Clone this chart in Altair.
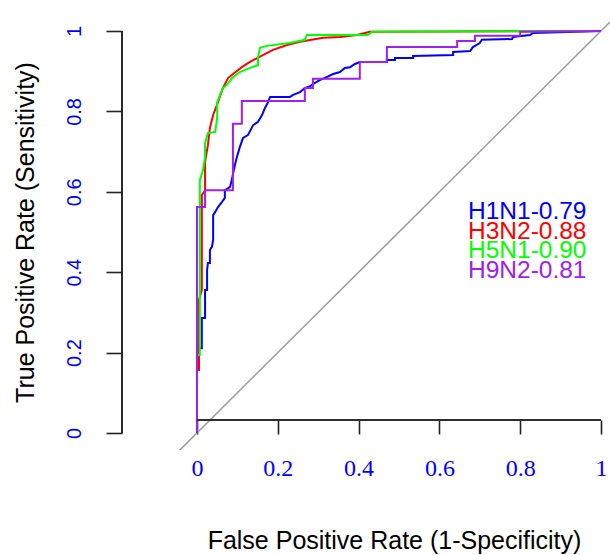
import altair as alt
import pandas as pd

# ---------------- data ----------------
series_names = ["H1N1", "H3N2", "H5N1", "H9N2"]
auc_labels = ["0.79", "0.88", "0.90", "0.81"]
series_colors = ["#0000FF", "#FF0000", "#00FF00", "#A020F0"]

h1n1_fpr = [0, 0, 0.005, 0.005, 0.012, 0.012, 0.020, 0.020, 0.025, 0.025, 0.027, 0.032, 0.032,
            0.037, 0.040, 0.040, 0.045, 0.052, 0.062, 0.069, 0.069, 0.082, 0.087, 0.094, 0.099,
            0.106, 0.114, 0.126, 0.139, 0.151, 0.161, 0.168, 0.176, 0.181, 0.230, 0.238, 0.255,
            0.267, 0.280, 0.292, 0.304, 0.322, 0.337, 0.354, 0.366, 0.379, 0.391, 0.403, 0.470,
            0.470, 0.490, 0.490, 0.535, 0.535, 0.634, 0.634, 0.676, 0.683, 0.700, 0.705, 0.780,
            0.782, 0.824, 0.832, 1.0]
h1n1_tpr = [0, 0.194, 0.194, 0.211, 0.211, 0.286, 0.286, 0.356, 0.356, 0.405, 0.423, 0.423, 0.455,
            0.463, 0.480, 0.542, 0.550, 0.562, 0.575, 0.585, 0.604, 0.612, 0.634, 0.667, 0.687,
            0.711, 0.734, 0.741, 0.766, 0.774, 0.791, 0.808, 0.823, 0.836, 0.836, 0.841, 0.848,
            0.858, 0.863, 0.871, 0.878, 0.886, 0.893, 0.898, 0.908, 0.910, 0.918, 0.923, 0.923,
            0.928, 0.928, 0.933, 0.933, 0.938, 0.940, 0.948, 0.950, 0.960, 0.970, 0.978, 0.980,
            0.985, 0.990, 0.995, 1.0]

h3n2_fpr = [0, 0, 0.005, 0.005, 0.012, 0.012, 0.020, 0.020, 0.027, 0.032, 0.040, 0.052, 0.064,
            0.077, 0.087, 0.111, 0.131, 0.163, 0.188, 0.223, 0.255, 0.312, 0.354, 0.396, 0.428, 1.0]
h3n2_tpr = [0, 0.157, 0.157, 0.331, 0.356, 0.592, 0.604, 0.674, 0.716, 0.759, 0.791, 0.823, 0.858,
            0.883, 0.891, 0.910, 0.923, 0.940, 0.953, 0.965, 0.973, 0.983, 0.985, 0.990, 0.998, 1.0]

h5n1_fpr = [0, 0, 0.007, 0.007, 0.015, 0.020, 0.020, 0.027, 0.045, 0.050, 0.050, 0.064, 0.074,
            0.087, 0.106, 0.136, 0.151, 0.151, 0.156, 0.173, 0.230, 0.267, 0.272, 0.423, 0.433, 1.0]
h5n1_tpr = [0, 0.194, 0.194, 0.629, 0.654, 0.687, 0.721, 0.746, 0.749, 0.784, 0.823, 0.858, 0.866,
            0.883, 0.898, 0.910, 0.915, 0.933, 0.958, 0.963, 0.970, 0.978, 0.990, 0.990, 0.998, 1.0]

h9n2_fpr = [0, 0, 0.020, 0.020, 0.089, 0.089, 0.111, 0.111, 0.267, 0.267, 0.287, 0.287, 0.403,
            0.403, 0.470, 0.470, 0.644, 0.644, 0.688, 0.688, 0.800, 0.800, 1.0]
h9n2_tpr = [0, 0.562, 0.562, 0.604, 0.604, 0.769, 0.769, 0.826, 0.826, 0.858, 0.858, 0.881, 0.881,
            0.923, 0.923, 0.960, 0.960, 0.975, 0.975, 0.988, 0.988, 0.998, 1.0]

tick_values = [0, 0.2, 0.4, 0.6, 0.8, 1]
diagonal_values = [-0.2, 1.1]

# ---------------- tables ----------------
rows = []
for name, fpr, tpr in zip(series_names,
                          [h1n1_fpr, h3n2_fpr, h5n1_fpr, h9n2_fpr],
                          [h1n1_tpr, h3n2_tpr, h5n1_tpr, h9n2_tpr]):
    assert len(fpr) == len(tpr)
    for i, (a, b) in enumerate(zip(fpr, tpr)):
        rows.append({"series": name, "fpr": a, "tpr": b, "idx": i})
curves = pd.DataFrame(rows)

diag = pd.DataFrame({"fpr": diagonal_values, "tpr": diagonal_values})
legend_labels = [f"{n}-{a}" for n, a in zip(series_names, auc_labels)]

# ---------------- layout ----------------
LEFT, TOP = 122, 15
W, H = 610 - LEFT, 435
xscale = alt.Scale(domain=[-0.1856, 1.0223], nice=False, zero=False)
yscale = alt.Scale(domain=[-0.0423, 1.0398], nice=False, zero=False)
cscale = alt.Scale(domain=series_names, range=series_colors)
AX = "#222222"

x_axis = alt.Axis(
    values=tick_values, format="~g", domain=False, grid=False,
    tickSize=14, tickWidth=1.6, tickColor=AX, offset=-30,
    labelFont="Liberation Serif", labelFontSize=24, labelColor="#0000FF",
    labelPadding=22, labelFlush=False, labelOverlap=False,
    title="False Positive Rate (1-Specificity)", titleFont="Liberation Sans",
    titleFontSize=25, titleFontWeight="normal", titleColor="black",
    titleX=394 - LEFT, titleY=128, titleAlign="center", titleBaseline="alphabetic",
)
y_axis = alt.Axis(
    values=tick_values, format="~g", domain=False, grid=False,
    tickSize=16, tickWidth=1.6, tickColor=AX,
    labelFont="Liberation Sans", labelFontSize=20, labelColor="#0000FF",
    labelAngle=270, labelAlign="center", labelBaseline="alphabetic",
    labelPadding=26, labelFlush=False, labelOverlap=False,
    title="True Positive Rate (Sensitivity)", titleFont="Liberation Sans",
    titleFontSize=25, titleFontWeight="normal", titleColor="black",
    titleAngle=270, titleAlign="center", titleBaseline="alphabetic",
    titleX=33 - LEFT, titleY=232 - TOP,
)

X = alt.X("fpr:Q", scale=xscale, axis=x_axis)
Y = alt.Y("tpr:Q", scale=yscale, axis=y_axis)

diag_layer = alt.Chart(diag).mark_line(color="#9a9a9a", strokeWidth=1.5, clip=True).encode(
    x=X, y=Y,
)

curve_layer = alt.Chart(curves).mark_line(strokeWidth=2, clip=True).encode(
    x=X, y=Y,
    color=alt.Color("series:N", scale=cscale, legend=None),
    order=alt.Order("idx:Q"),
)

yaxis_line = alt.Chart(diag).mark_rule(color=AX, strokeWidth=1.6).encode(
    x=alt.value(0),
    y=alt.Y(datum=0, scale=yscale, axis=y_axis),
    y2=alt.Y2(datum=1),
)
xaxis_line = alt.Chart(diag).mark_rule(color=AX, strokeWidth=1.6).encode(
    x=alt.X(datum=0, scale=xscale, axis=x_axis),
    x2=alt.X2(datum=1),
    y=alt.value(H - 30),
)

legend_layers = []
for i, (lab, col) in enumerate(zip(legend_labels, series_colors)):
    legend_layers.append(
        alt.Chart(diag.head(1)).mark_text(
            align="left", baseline="alphabetic", font="Liberation Sans",
            fontSize=24.5, color=col, text=lab,
        ).encode(x=alt.value(468 - LEFT), y=alt.value(204 + i * 19.7))
    )

chart = alt.layer(diag_layer, curve_layer, yaxis_line, xaxis_line, *legend_layers).properties(
    width=W, height=H,
    padding={"left": LEFT, "top": TOP, "right": 0, "bottom": 555 - TOP - H},
    autosize=alt.AutoSizeParams(type="none"),
    background="white",
).configure_view(stroke=None)

chart.save("out.html", embed_options={"renderer": "svg", "actions": False})
